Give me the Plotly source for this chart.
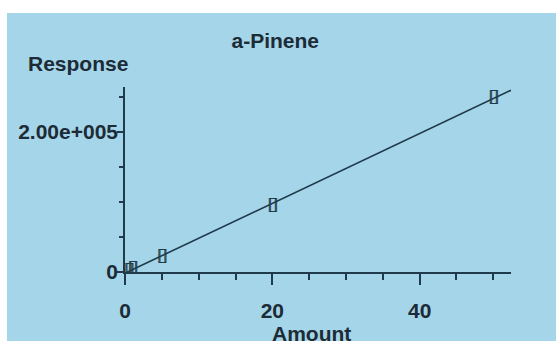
import numpy as np
import plotly.graph_objects as go

# ---- data ----
amount = [0.5, 1, 5, 20, 50]
response = [2400, 4800, 22000, 95000, 249000]
line_x_range = [0, 52.4]
x_tickvals = [0, 20, 40]
x_ticktext = ["0", "20", "40"]
y_tickvals = [0, 200000]
y_ticktext = ["0", "2.00e+005"]
title_text = "a-Pinene"
x_title = "Amount"
y_title = "Response"

# calibration line fitted to the points
slope, intercept = np.polyfit(amount, response, 1)
fit_x = line_x_range
fit_y = [slope * v + intercept for v in fit_x]

BG = "#a5d5e9"
INK = "#1c2b36"
LINE = "#1f3a4a"
FONT = "Liberation Sans, Arial, sans-serif"
FS = 21

fig = go.Figure()
fig.add_trace(go.Scatter(x=fit_x, y=fit_y, mode="lines",
                         line=dict(color=LINE, width=1.6),
                         hoverinfo="skip", showlegend=False))
fig.add_trace(go.Scatter(x=amount, y=response, mode="text",
                         text=["▯"] * len(amount),
                         textposition="middle center",
                         textfont=dict(family="DejaVu Sans", size=19, color=LINE,
                                       shadow="1px 0px 0px #1f3a4a"),
                         showlegend=False))

fig.update_layout(
    width=556, height=341,
    margin=dict(l=125, r=45, t=87, b=69),
    paper_bgcolor=BG, plot_bgcolor=BG,
    font=dict(family=FONT, size=FS, color=INK, weight="bold"),
    title=dict(text=title_text, xref="container", yref="container",
               x=0.495, y=1 - 41 / 341, xanchor="center", yanchor="middle",
               font=dict(family=FONT, size=FS, color=INK, weight="bold")),
    xaxis=dict(range=line_x_range, showline=True, linecolor=LINE, linewidth=1.6,
               showgrid=False, zeroline=False,
               tickvals=x_tickvals, ticktext=x_ticktext,
               ticks="outside", ticklen=11, tickwidth=1.6, tickcolor=LINE,
               ticklabelstandoff=8,
               tickfont=dict(family=FONT, size=FS, color=INK, weight="bold"),
               minor=dict(dtick=5, tick0=0, ticks="outside", ticklen=6,
                          tickwidth=1.6, tickcolor=LINE)),
    yaxis=dict(range=[0, 264300], showline=True, linecolor=LINE, linewidth=1.6,
               showgrid=False, zeroline=False,
               tickvals=y_tickvals, ticktext=y_ticktext,
               ticks="outside", ticklen=6, tickwidth=1.6, tickcolor=LINE,
               ticklabelstandoff=-5,
               tickfont=dict(family=FONT, size=FS, color=INK, weight="bold"),
               minor=dict(dtick=50000, tick0=0, ticks="outside", ticklen=4,
                          tickwidth=1.6, tickcolor=LINE)),
    shapes=[
        # white margins of the screenshot
        dict(type="rect", xref="paper", yref="paper", x0=-0.5, x1=1.5,
             y0=(272 - 13) / 185, y1=2.0, fillcolor="white", line_width=0,
             layer="below"),
        dict(type="rect", xref="paper", yref="paper", x0=-0.5,
             x1=(7 - 125) / 386, y0=-1, y1=2.0, fillcolor="white",
             line_width=0, layer="below"),
        # x axis line extending left of the origin
        dict(type="line", xref="x", yref="y", xsizemode="pixel", xanchor=0,
             x0=-12, x1=0, y0=0, y1=0, line=dict(color=LINE, width=1.6)),
    ],
    annotations=[
        dict(text=y_title, xref="paper", yref="paper", x=(78 - 125) / 386,
             y=(272 - 64) / 185, xanchor="center", yanchor="middle",
             showarrow=False, font=dict(family=FONT, size=FS, color=INK, weight="bold")),
        dict(text=x_title, xref="paper", yref="paper", x=(311 - 125) / 386,
             y=(272 - 333) / 185, xanchor="center", yanchor="middle",
             showarrow=False, font=dict(family=FONT, size=FS, color=INK, weight="bold")),
    ],
)

fig.write_html("out.html", config={"displayModeBar": False},
               post_script="document.body.style.margin='0px';document.body.style.overflow='hidden';")
